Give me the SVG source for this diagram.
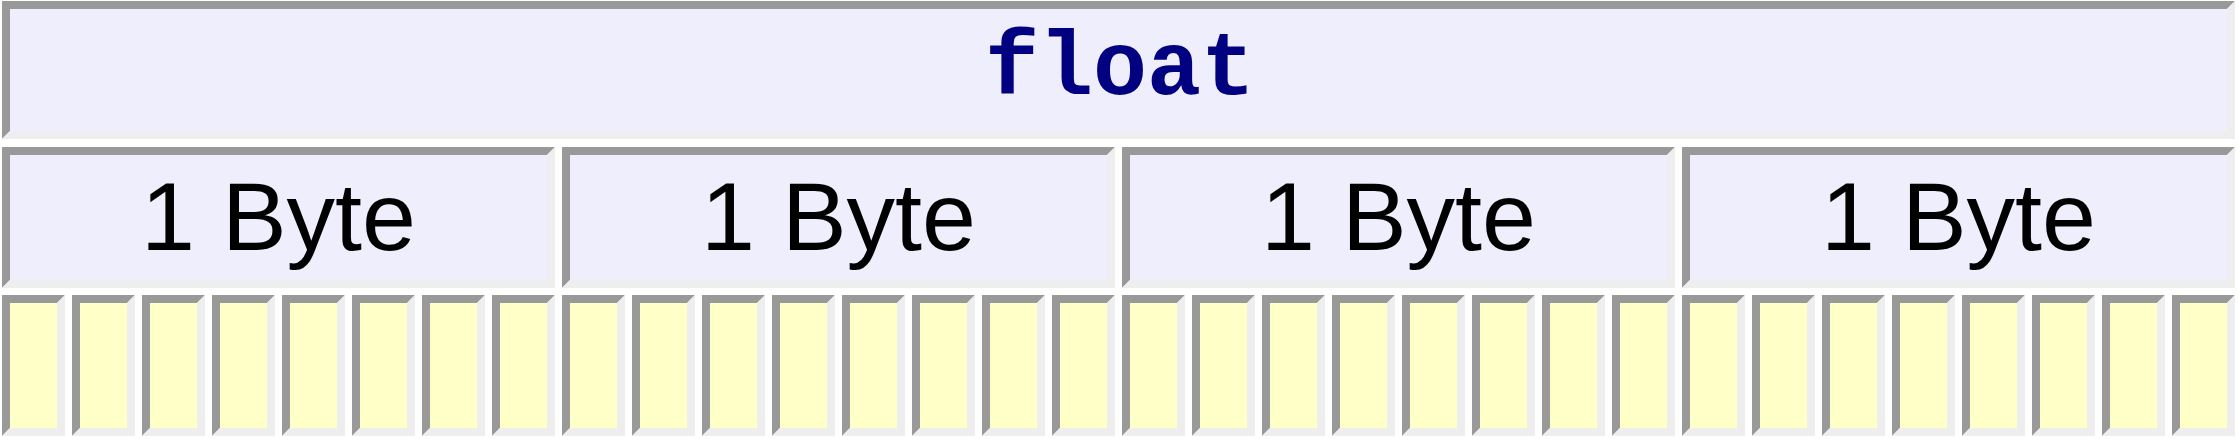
<svg xmlns="http://www.w3.org/2000/svg" xmlns:xlink="http://www.w3.org/1999/xlink" width="2238" height="439" viewBox="0 0 2238 439">
<style>
.dark{fill:#999999}
.light{fill:#eeeeee}
.lav{fill:#eeeefd}
.yel{fill:#ffffc8}
.title{font-family:"Courier New","Liberation Mono",monospace;font-weight:bold;font-size:90px;fill:#000080;text-anchor:middle}
.lbl{font-family:Arial,"Liberation Sans",sans-serif;font-size:97px;fill:#000000;text-anchor:middle}
</style>
<defs>
<g id="bitbox">
<polygon class="dark" points="0,0 63,0 55,8 8,8 8,133 0,141"/>
<polygon class="light" points="63,0 63,141 0,141 8,133 55,133 55,8"/>
<rect class="yel" x="8" y="8" width="47" height="125"/>
</g>
<g id="bytebox">
<polygon class="dark" points="0,0 553,0 545,8 8,8 8,133 0,141"/>
<polygon class="light" points="553,0 553,141 0,141 8,133 545,133 545,8"/>
<rect class="lav" x="8" y="8" width="537" height="125"/>
</g>
</defs>
<rect x="0" y="0" width="2238" height="439" fill="#ffffff"/>
<g id="float">
<polygon class="dark" points="2,1 2235,1 2227,9 10,9 10,131 2,139"/>
<polygon class="light" points="2235,1 2235,139 2,139 10,131 2227,131 2227,9"/>
<rect class="lav" x="10" y="9" width="2217" height="122"/>
<text class="title" x="1120" y="94">float</text>
</g>
<g id="byte-0"><use xlink:href="#bytebox" x="2" y="147"/><text class="lbl" x="278.5" y="250">1 Byte</text></g>
<g id="byte-1"><use xlink:href="#bytebox" x="562" y="147"/><text class="lbl" x="838.5" y="250">1 Byte</text></g>
<g id="byte-2"><use xlink:href="#bytebox" x="1122" y="147"/><text class="lbl" x="1398.5" y="250">1 Byte</text></g>
<g id="byte-3"><use xlink:href="#bytebox" x="1682" y="147"/><text class="lbl" x="1958.5" y="250">1 Byte</text></g>
<g id="bit-0"><use xlink:href="#bitbox" x="2" y="295"/></g>
<g id="bit-1"><use xlink:href="#bitbox" x="72" y="295"/></g>
<g id="bit-2"><use xlink:href="#bitbox" x="142" y="295"/></g>
<g id="bit-3"><use xlink:href="#bitbox" x="212" y="295"/></g>
<g id="bit-4"><use xlink:href="#bitbox" x="282" y="295"/></g>
<g id="bit-5"><use xlink:href="#bitbox" x="352" y="295"/></g>
<g id="bit-6"><use xlink:href="#bitbox" x="422" y="295"/></g>
<g id="bit-7"><use xlink:href="#bitbox" x="492" y="295"/></g>
<g id="bit-8"><use xlink:href="#bitbox" x="562" y="295"/></g>
<g id="bit-9"><use xlink:href="#bitbox" x="632" y="295"/></g>
<g id="bit-10"><use xlink:href="#bitbox" x="702" y="295"/></g>
<g id="bit-11"><use xlink:href="#bitbox" x="772" y="295"/></g>
<g id="bit-12"><use xlink:href="#bitbox" x="842" y="295"/></g>
<g id="bit-13"><use xlink:href="#bitbox" x="912" y="295"/></g>
<g id="bit-14"><use xlink:href="#bitbox" x="982" y="295"/></g>
<g id="bit-15"><use xlink:href="#bitbox" x="1052" y="295"/></g>
<g id="bit-16"><use xlink:href="#bitbox" x="1122" y="295"/></g>
<g id="bit-17"><use xlink:href="#bitbox" x="1192" y="295"/></g>
<g id="bit-18"><use xlink:href="#bitbox" x="1262" y="295"/></g>
<g id="bit-19"><use xlink:href="#bitbox" x="1332" y="295"/></g>
<g id="bit-20"><use xlink:href="#bitbox" x="1402" y="295"/></g>
<g id="bit-21"><use xlink:href="#bitbox" x="1472" y="295"/></g>
<g id="bit-22"><use xlink:href="#bitbox" x="1542" y="295"/></g>
<g id="bit-23"><use xlink:href="#bitbox" x="1612" y="295"/></g>
<g id="bit-24"><use xlink:href="#bitbox" x="1682" y="295"/></g>
<g id="bit-25"><use xlink:href="#bitbox" x="1752" y="295"/></g>
<g id="bit-26"><use xlink:href="#bitbox" x="1822" y="295"/></g>
<g id="bit-27"><use xlink:href="#bitbox" x="1892" y="295"/></g>
<g id="bit-28"><use xlink:href="#bitbox" x="1962" y="295"/></g>
<g id="bit-29"><use xlink:href="#bitbox" x="2032" y="295"/></g>
<g id="bit-30"><use xlink:href="#bitbox" x="2102" y="295"/></g>
<g id="bit-31"><use xlink:href="#bitbox" x="2172" y="295"/></g>
<g id="connectors"/>
</svg>
